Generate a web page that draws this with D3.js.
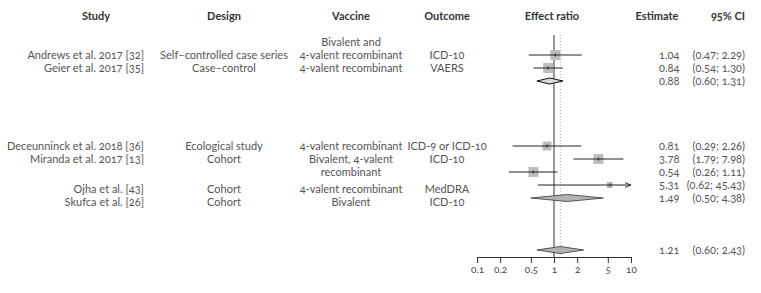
<!DOCTYPE html>
<html lang="en">
  <head>
    <meta charset="UTF-8" />
    <title>Forest plot</title>
    <script src="https://d3js.org/d3.v7.min.js"></script>
    <style>
      body {
        margin: 0;
        background: #fff;
      }
      .lbl {
        font-family: Lato;
        font-feature-settings: "onum" 1;
      }
    </style>
  </head>
  <body>
    <div id="chart"></div>
    <script>
      // table rows (slot = line number in the table)
      const rowSlot = [3, 4, 5, 10, 11, 12, 13, 14, 18];
      const rowKind = ["box", "box", "diamond", "box", "box", "box", "box", "diamond", "diamond"];
      const estimates = [1.04, 0.84, 0.88, 0.81, 3.78, 0.54, 5.31, 1.49, 1.21];
      const lower = [0.47, 0.54, 0.6, 0.29, 1.79, 0.26, 0.62, 0.5, 0.6];
      const upper = [2.29, 1.3, 1.31, 2.26, 7.98, 1.11, 45.43, 4.38, 2.43];
      const weights = [28, 28, null, 22, 28, 28, 10, null, null];

      const studies = ["Andrews et al. 2017 [32]", "Geier et al. 2017 [35]", "", "Deceunninck et al. 2018 [36]", "Miranda et al. 2017 [13]", "", "Ojha et al. [43]", "Skufca et al. [26]", ""];
      const designs = ["Self\u2013controlled case series", "Case\u2013control", "", "Ecological study", "Cohort", "", "Cohort", "Cohort", ""];
      const vaccines = ["4-valent recombinant", "4-valent recombinant", "", "4-valent recombinant", "Bivalent, 4-valent", "recombinant", "4-valent recombinant", "Bivalent", ""];
      const vaccineExtra = [{ slot: 2, text: "Bivalent and" }];
      const outcomes = ["ICD-10", "VAERS", "", "ICD-9 or ICD-10", "ICD-10", "", "MedDRA", "ICD-10", ""];
      const headers = ["Study", "Design", "Vaccine", "Outcome", "Effect ratio", "Estimate", "95% CI"];
      const axisTicks = [0.1, 0.2, 0.5, 1, 2, 5, 10];
      const refLine = 1;

      const width = 761,
        height = 293;

      const svg = d3
        .select("#chart")
        .append("svg")
        .attr("width", width)
        .attr("height", height);

      const x = d3.scaleLog().domain([0.1, 10]).range([477, 631]);
      const y = d3.scaleLinear().domain([0, 1]).range([16, 29]);
      const boxSize = d3.scaleSqrt().domain([0, 28]).range([0, 10]);

      // some text rows in the lower block sit a little lower than their marks
      const textShift = (i) => (i === 6 || i === 7 ? 4 : 0);

      // headers
      const headerX = [96, 224, 351, 447, 552, 657, 745];
      const headerAnchor = ["middle", "middle", "middle", "middle", "middle", "middle", "end"];
      svg
        .selectAll("text.header")
        .data(headers)
        .enter()
        .append("text")
        .attr("class", "header lbl")
        .attr("x", (d, i) => headerX[i])
        .attr("y", y(0))
        .attr("dy", "0.35em")
        .attr("text-anchor", (d, i) => headerAnchor[i])
        .attr("font-size", 11)
        .attr("font-weight", "bold")
        .attr("fill", "#333")
        .text((d) => d);

      function addText(g, xpos, ypos, anchor, str) {
        return g
          .append("text")
          .attr("class", "lbl")
          .attr("x", xpos)
          .attr("y", ypos)
          .attr("dy", "0.35em")
          .attr("text-anchor", anchor)
          .attr("font-size", 11)
          .attr("fill", "#555")
          .text(str);
      }

      function textColumn(data, xpos, anchor) {
        const g = svg.append("g");
        data.forEach((d, i) => {
          if (!d) return;
          addText(g, xpos, y(rowSlot[i]) + textShift(i), anchor, d);
        });
        return g;
      }

      textColumn(studies, 144, "end");
      textColumn(designs, 224, "middle");
      const vg = textColumn(vaccines, 351, "middle");
      vaccineExtra.forEach((v) => addText(vg, 351, y(v.slot), "middle", v.text));
      textColumn(outcomes, 447, "middle");

      // estimate and CI columns
      const fmt = d3.format(".2f");
      const numG = svg.append("g");
      estimates.forEach((e, i) => {
        addText(numG, 659, y(rowSlot[i]), "start", fmt(e));
        addText(numG, 745, y(rowSlot[i]), "end", `(${fmt(lower[i])}; ${fmt(upper[i])})`);
      });

      // reference lines
      svg
        .append("line")
        .attr("x1", x(1.21))
        .attr("x2", x(1.21))
        .attr("y1", 35)
        .attr("y2", 257)
        .attr("stroke", "#aaa")
        .attr("stroke-width", 1)
        .attr("stroke-dasharray", "1,2");
      svg
        .append("line")
        .attr("x1", x(refLine))
        .attr("x2", x(refLine))
        .attr("y1", 35)
        .attr("y2", 257)
        .attr("stroke", "#999")
        .attr("stroke-width", 2);

      svg
        .append("defs")
        .append("marker")
        .attr("id", "arrow")
        .attr("viewBox", "0 0 10 10")
        .attr("refX", 10)
        .attr("refY", 5)
        .attr("markerWidth", 6)
        .attr("markerHeight", 6)
        .attr("orient", "auto")
        .append("path")
        .attr("d", "M0,1L10,5L0,9")
        .attr("fill", "none")
        .attr("stroke", "#222")
        .attr("stroke-width", 1.5);

      const [xmin, xmax] = x.domain();
      const marks = svg.append("g");
      estimates.forEach((e, i) => {
        const cy = y(rowSlot[i]);
        if (rowKind[i] === "box") {
          const s = boxSize(weights[i]);
          marks
            .append("rect")
            .attr("x", x(e) - s / 2)
            .attr("y", cy - s / 2)
            .attr("width", s)
            .attr("height", s)
            .attr("fill", "#bdbdbd");
          const clipped = upper[i] > xmax;
          marks
            .append("line")
            .attr("x1", x(Math.max(lower[i], xmin)))
            .attr("x2", x(Math.min(upper[i], xmax)))
            .attr("y1", cy)
            .attr("y2", cy)
            .attr("stroke", "#222")
            .attr("stroke-width", 1)
            .attr("marker-end", clipped ? "url(#arrow)" : null);
          marks
            .append("line")
            .attr("x1", x(e))
            .attr("x2", x(e))
            .attr("y1", cy - 1.5)
            .attr("y2", cy + 1.5)
            .attr("stroke", "#222")
            .attr("stroke-width", 1);
        } else {
          const h = i === 2 ? 3 : 3.5;
          const pts = [
            [x(lower[i]), cy],
            [x(e), cy - h],
            [x(upper[i]), cy],
            [x(e), cy + h],
          ];
          marks
            .append("path")
            .attr("d", d3.line()(pts) + "Z")
            .attr("fill", i === 2 ? "#d9d9d9" : "#b3b3b3")
            .attr("stroke", i === 2 ? "#111" : "#555")
            .attr("stroke-width", 1);
        }
      });

      // axis
      const axis = svg
        .append("g")
        .attr("transform", "translate(0,257)")
        .call(
          d3
            .axisBottom(x)
            .tickValues(axisTicks)
            .tickFormat((d) => String(d))
            .tickSize(6)
            .tickSizeOuter(0)
            .tickPadding(3)
        );
      axis.attr("font-family", null).attr("font-size", null);
      axis.select(".domain").attr("stroke", "#333");
      axis.selectAll(".tick line").attr("stroke", "#333");
      axis
        .selectAll(".tick text")
        .attr("class", "lbl")
        .attr("font-size", 10)
        .attr("fill", "#444");
    </script>
  </body>
</html>
